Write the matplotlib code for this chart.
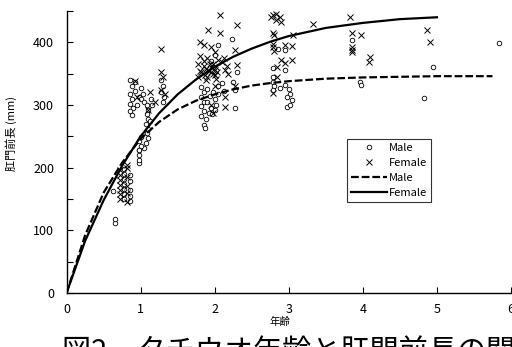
import numpy as np
import matplotlib
matplotlib.use("Agg")
import matplotlib.pyplot as plt
from matplotlib.ticker import MultipleLocator

plt.rcParams['font.family'] = ['Noto Sans CJK JP', 'DejaVu Sans']

# observed points (age, pre-anal length mm)
male_age = [0.65, 0.65, 0.63,
            0.78, 0.78, 0.78, 0.78, 0.78, 0.78, 0.78,
            0.85, 0.85, 0.85, 0.85, 0.85,
            0.98, 0.98, 0.98, 0.98,
            0.86, 0.88, 0.86, 0.88, 0.86, 0.90, 0.86, 0.88, 0.93, 0.92, 0.95, 0.98,
            1.00, 1.03, 1.00, 1.04,
            1.08, 1.10, 1.08, 1.10, 1.07, 1.10, 1.08, 1.10, 1.07, 1.05, 1.00, 0.98, 1.00, 0.98, 1.12, 1.15, 1.14,
            1.28, 1.30, 1.27, 1.32, 1.30,
            1.82, 1.85, 1.82, 1.85, 1.82, 1.85, 1.82, 1.88, 1.90, 1.93, 1.90, 1.95, 1.92, 1.98, 2.00,
            2.02, 2.00, 1.97, 2.05, 2.05, 1.85, 1.87, 2.23, 2.25, 2.27, 2.27, 2.30, 2.10, 2.12, 2.00,
            1.95, 2.05,
            2.79, 2.95, 2.79, 2.79, 2.80, 2.79, 2.88, 2.95, 3.00, 3.02, 2.97, 3.04, 2.97, 3.02, 2.85,
            2.95, 3.86, 3.96, 3.98, 4.95, 4.83, 5.84]
male_len = [112, 118, 162,
            150, 158, 166, 174, 182, 190, 198,
            147, 155, 165, 178, 188,
            207, 213, 220, 228,
            340, 330, 318, 310, 302, 296, 290, 284, 336, 322, 300, 312,
            327, 318, 310, 305,
            300, 292, 285, 278, 270, 262, 255, 248, 240, 232, 249, 242, 235, 228, 275, 300, 310,
            340, 330, 320, 312, 305,
            329, 320, 312, 305, 298, 290, 283, 278, 325, 315, 305, 295, 288, 320, 310,
            300, 292, 285, 330, 318, 268, 263, 406, 337, 324, 295, 352, 335, 322, 380,
            370, 395,
            359, 356, 345, 337, 330, 324, 327, 332, 325, 318, 312, 308, 297, 300, 390,
            388, 403, 337, 332, 360, 311, 399]

female_age = [0.72, 0.72, 0.72, 0.72, 0.72, 0.72, 0.72,
              0.82, 0.82, 0.82, 0.82, 0.82, 0.82,
              0.92, 0.95, 1.13, 1.10, 1.27, 1.27, 1.27, 1.30, 1.33, 1.20,
              2.07, 2.30, 1.91, 2.07, 1.80, 1.85, 1.95, 2.00, 1.80, 1.90, 2.05, 2.10, 1.78, 1.85,
              1.88, 1.92, 1.95, 1.98, 2.00, 2.02, 1.82, 1.87, 1.90, 1.95, 1.98, 2.00, 2.03, 1.85,
              1.93, 2.27, 2.30, 2.14, 2.12, 2.16, 1.78, 1.80, 2.02, 1.88, 2.18, 2.00, 2.14, 2.14,
              1.98, 2.27, 1.95,
              2.79, 2.83, 2.88, 2.83, 2.90, 2.76, 3.33, 2.79, 2.80, 3.06, 2.79, 2.79, 2.80, 2.95,
              3.05, 2.90, 3.05, 2.95, 2.84, 2.84, 2.79, 3.82, 3.86, 3.98, 3.85, 3.85, 3.86, 4.09,
              4.08, 4.86, 4.91]
female_len = [150, 158, 165, 172, 180, 188, 196,
              145, 160, 170, 185, 200, 205,
              338, 312, 320, 292, 390, 352, 324, 345, 318, 305,
              443, 427, 419, 415, 400, 395, 392, 385, 378, 375, 372, 368, 365, 362,
              358, 355, 352, 350, 348, 360, 352, 348, 345, 360, 365, 356, 352, 370,
              365, 387, 364, 356, 375, 362, 345, 355, 342, 340, 350, 330, 297, 313,
              287, 330, 300,
              443, 446, 440, 436, 432, 440, 430, 415, 411, 411, 398, 392, 386, 395,
              394, 372, 372, 367, 361, 345, 319, 440, 415, 411, 392, 384, 388, 376,
              368, 419, 400]

# growth curves
curve_age_m = [0, 0.25, 0.5, 0.75, 1.0, 1.25, 1.5, 1.75, 2.0, 2.25, 2.5, 2.75, 3.0, 3.5, 4.0, 4.5, 5.0, 5.75]
curve_len_m = [0, 92, 160, 208, 246, 273, 293, 307, 317, 325, 331, 335, 338, 342, 344, 345, 346, 346]
curve_age_f = [0, 0.25, 0.5, 0.75, 1.0, 1.25, 1.5, 1.75, 2.0, 2.25, 2.5, 2.75, 3.0, 3.5, 4.0, 4.5, 5.0]
curve_len_f = [0, 83, 148, 203, 250, 287, 317, 341, 361, 377, 390, 401, 410, 423, 431, 437, 440]

fig = plt.figure(figsize=(5.12, 3.47), dpi=100)
ax = fig.add_axes([0.130, 0.1556, 0.868, 0.8127])

ax.plot(male_age, male_len, linestyle='none', marker='o', ms=3.3, mfc='white',
        mec='black', mew=0.6, label='Male')
ax.plot(female_age, female_len, linestyle='none', marker='x', ms=4, color='black',
        mew=0.7, label='Female')
ax.plot(curve_age_m, curve_len_m, color='black', lw=1.6, linestyle=(0, (3.5, 1.3)), label='Male')
ax.plot(curve_age_f, curve_len_f, color='black', lw=1.6, label='Female')

ax.set_xlim(0, 6)
ax.set_ylim(0, 450)
ax.xaxis.set_major_locator(MultipleLocator(1))
ax.yaxis.set_major_locator(MultipleLocator(100))
ax.yaxis.set_minor_locator(MultipleLocator(50))
ax.tick_params(direction='in', length=4, width=0.8, labelsize=9, pad=9)
ax.tick_params(axis='y', which='minor', direction='in', length=4, width=0.8)
ax.tick_params(axis='x', pad=7)
for s in ['top', 'right']:
    ax.spines[s].set_visible(False)
for s in ['left', 'bottom']:
    ax.spines[s].set_linewidth(1.0)

ax.set_ylabel('肛門前長 (mm)', fontsize=8)
ax.yaxis.set_label_coords(-0.111, 0.564)
ax.set_xlabel('年齢', fontsize=7.5)
ax.xaxis.set_label_coords(0.48, -0.085)

leg = ax.legend(loc='upper left', bbox_to_anchor=(0.632, 0.545), fontsize=8,
                frameon=True, fancybox=False, handlelength=3.2, handletextpad=0.2,
                borderpad=0.35, labelspacing=0.45, borderaxespad=0)
leg.get_frame().set_edgecolor('black')
leg.get_frame().set_linewidth(0.8)

fig.text(0.121, 0.028, '図2\u3000タチウオ年齢と肛門前長の関係', fontsize=21, va='top', ha='left')

fig.savefig('out.png', dpi=100)
